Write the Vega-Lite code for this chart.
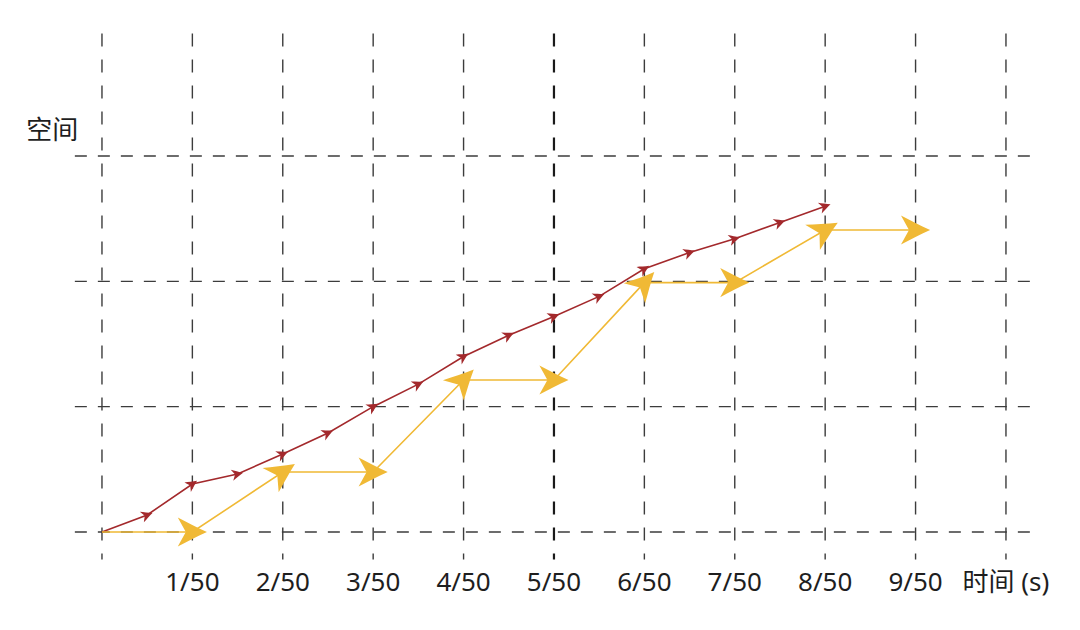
{
  "$schema": "https://vega.github.io/schema/vega-lite/v6.json",
  "width": 1080,
  "height": 630,
  "autosize": {"type": "fit", "contains": "padding"},
  "padding": 0,
  "background": "white",
  "config": {"view": {"stroke": null}},
  "datasets": {
    "vgrid": [
      {"x": 0, "y1": -0.22, "y2": 3.98, "main": "n"},
      {"x": 1, "y1": -0.22, "y2": 3.98, "main": "n"},
      {"x": 2, "y1": -0.22, "y2": 3.98, "main": "n"},
      {"x": 3, "y1": -0.22, "y2": 3.98, "main": "n"},
      {"x": 4, "y1": -0.22, "y2": 3.98, "main": "n"},
      {"x": 5, "y1": -0.22, "y2": 3.98, "main": "y"},
      {"x": 6, "y1": -0.22, "y2": 3.98, "main": "n"},
      {"x": 7, "y1": -0.22, "y2": 3.98, "main": "n"},
      {"x": 8, "y1": -0.22, "y2": 3.98, "main": "n"},
      {"x": 9, "y1": -0.22, "y2": 3.98, "main": "n"},
      {"x": 10, "y1": -0.22, "y2": 3.98, "main": "n"}
    ],
    "hgrid": [
      {"y": 0, "x1": -0.3, "x2": 10.37},
      {"y": 1, "x1": -0.3, "x2": 10.37},
      {"y": 2, "x1": -0.3, "x2": 10.37},
      {"y": 3, "x1": -0.3, "x2": 10.37}
    ],
    "labels": [
      {"x": 1, "label": "1/50"},
      {"x": 2, "label": "2/50"},
      {"x": 3, "label": "3/50"},
      {"x": 4, "label": "4/50"},
      {"x": 5, "label": "5/50"},
      {"x": 6, "label": "6/50"},
      {"x": 7, "label": "7/50"},
      {"x": 8, "label": "8/50"},
      {"x": 9, "label": "9/50"},
      {"x": 10, "label": "时间 (s)"}
    ],
    "series": [
      {"s": "red", "x": 0, "y": 0},
      {"s": "red", "x": 0.5, "y": 0.136},
      {"s": "red", "x": 1, "y": 0.383},
      {"s": "red", "x": 1.5, "y": 0.463},
      {"s": "red", "x": 2, "y": 0.622},
      {"s": "red", "x": 2.5, "y": 0.79},
      {"s": "red", "x": 3, "y": 1.0},
      {"s": "red", "x": 3.5, "y": 1.18},
      {"s": "red", "x": 4, "y": 1.4},
      {"s": "red", "x": 4.5, "y": 1.57},
      {"s": "red", "x": 5, "y": 1.72},
      {"s": "red", "x": 5.5, "y": 1.88},
      {"s": "red", "x": 6, "y": 2.1},
      {"s": "red", "x": 6.5, "y": 2.23},
      {"s": "red", "x": 7, "y": 2.34},
      {"s": "red", "x": 7.5, "y": 2.47},
      {"s": "red", "x": 8, "y": 2.6},
      {"s": "yellow", "x": 0, "y": 0},
      {"s": "yellow", "x": 1, "y": 0},
      {"s": "yellow", "x": 2, "y": 0.479},
      {"s": "yellow", "x": 3, "y": 0.479},
      {"s": "yellow", "x": 4, "y": 1.213},
      {"s": "yellow", "x": 5, "y": 1.213},
      {"s": "yellow", "x": 6, "y": 1.99},
      {"s": "yellow", "x": 7, "y": 1.99},
      {"s": "yellow", "x": 8, "y": 2.41},
      {"s": "yellow", "x": 9, "y": 2.41}
    ]
  },
  "layer": [
    {
      "data": {"name": "vgrid"},
      "transform": [{"filter": "datum.main == 'n'"}],
      "mark": {"type": "rule", "strokeDash": [13, 13], "strokeDashOffset": 7, "color": "#3c3c3c", "strokeWidth": 1.4},
      "encoding": {
        "x": {"field": "x", "type": "quantitative", "scale": {"domain": [-1.128, 10.819], "nice": false, "zero": false}, "axis": null},
        "y": {"field": "y1", "type": "quantitative", "scale": {"domain": [-0.782, 4.245], "nice": false, "zero": false}, "axis": null},
        "y2": {"field": "y2"}
      }
    },
    {
      "data": {"name": "vgrid"},
      "transform": [{"filter": "datum.main == 'y'"}],
      "mark": {"type": "rule", "strokeDash": [13, 13], "strokeDashOffset": 7, "color": "#1a1a1a", "strokeWidth": 2.2},
      "encoding": {
        "x": {"field": "x", "type": "quantitative"},
        "y": {"field": "y1", "type": "quantitative"},
        "y2": {"field": "y2"}
      }
    },
    {
      "data": {"name": "hgrid"},
      "mark": {"type": "rule", "strokeDash": [12, 11], "color": "#3c3c3c", "strokeWidth": 1.4},
      "encoding": {
        "x": {"field": "x1", "type": "quantitative"},
        "x2": {"field": "x2"},
        "y": {"field": "y", "type": "quantitative"}
      }
    },
    {
      "data": {"name": "labels"},
      "mark": {"type": "text", "font": "Noto Sans, Noto Sans CJK SC", "fontSize": 26, "color": "#1e1e1e", "align": "center", "baseline": "middle", "dy": 51},
      "encoding": {
        "x": {"field": "x", "type": "quantitative"},
        "y": {"datum": 0, "type": "quantitative"},
        "text": {"field": "label"}
      }
    },
    {
      "data": {"values": [{"x": -0.55, "y": 3.2, "label": "空间"}]},
      "mark": {"type": "text", "font": "Noto Sans CJK SC", "fontSize": 26, "color": "#1e1e1e", "align": "center", "baseline": "middle"},
      "encoding": {
        "x": {"field": "x", "type": "quantitative"},
        "y": {"field": "y", "type": "quantitative"},
        "text": {"field": "label"}
      }
    },
    {
      "data": {"name": "series"},
      "mark": {"type": "line", "interpolate": "linear", "strokeWidth": 1.6},
      "encoding": {
        "x": {"field": "x", "type": "quantitative"},
        "y": {"field": "y", "type": "quantitative"},
        "detail": {"field": "s"},
        "order": {"field": "x"},
        "color": {"field": "s", "type": "nominal", "scale": {"domain": ["yellow", "red"], "range": ["#f0b935", "#a3292c"]}, "legend": null}
      }
    },
    {
      "data": {"name": "series"},
      "transform": [
        {"window": [{"op": "lag", "field": "x", "as": "px"}, {"op": "lag", "field": "y", "as": "py"}], "groupby": ["s"], "sort": [{"field": "x", "order": "ascending"}]},
        {"filter": "datum.px != null"},
        {"calculate": "-atan2((datum.y - datum.py) * 125.33, (datum.x - datum.px) * 90.4) * 180 / PI", "as": "ang"}
      ],
      "mark": {"type": "point", "filled": true, "opacity": 1, "strokeWidth": 0, "shape": "M1,0 C0.3,-0.3 -0.4,-0.7 -1,-1 L-0.45,0 L-1,1 C-0.4,0.7 0.3,0.3 1,0 Z"},
      "encoding": {
        "x": {"field": "x", "type": "quantitative"},
        "y": {"field": "y", "type": "quantitative"},
        "angle": {"field": "ang", "type": "quantitative", "scale": null},
        "color": {"field": "s", "type": "nominal", "scale": {"domain": ["yellow", "red"], "range": ["#f0b935", "#a3292c"]}, "legend": null},
        "size": {"field": "s", "type": "nominal", "scale": {"domain": ["yellow", "red"], "range": [850, 130]}, "legend": null}
      }
    }
  ]
}
